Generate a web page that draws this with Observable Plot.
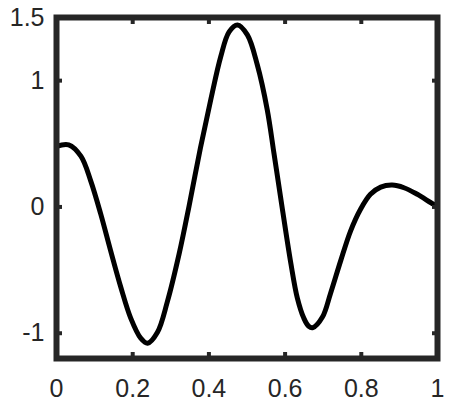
<!DOCTYPE html>
<html>
<head>
<meta charset="utf-8">
<script src="https://cdn.jsdelivr.net/npm/d3@7"></script>
<script src="https://cdn.jsdelivr.net/npm/@observablehq/plot@0.6"></script>
<style>
  html, body { margin: 0; padding: 0; background: #ffffff; }
</style>
</head>
<body>
<div id="chart"></div>
<script>
// Curve samples
const xs = [0, 0.032, 0.064, 0.090, 0.116, 0.142, 0.169, 0.195, 0.221, 0.239,
            0.265, 0.291, 0.322, 0.348, 0.378, 0.405, 0.431, 0.453, 0.475, 0.501,
            0.527, 0.553, 0.571, 0.588, 0.615, 0.632, 0.649, 0.662, 0.673, 0.698, 0.719,
            0.746, 0.772, 0.798, 0.824, 0.851, 0.881, 0.912, 0.947, 0.990, 1.0];
const ys = [0.480, 0.492, 0.402, 0.205, -0.055, -0.346, -0.638, -0.882, -1.039, -1.079,
            -0.992, -0.750, -0.370, 0.008, 0.470, 0.850, 1.189, 1.386, 1.441, 1.362,
            1.126, 0.772, 0.420, 0.080, -0.445, -0.720, -0.880, -0.945, -0.955, -0.872, -0.687,
            -0.425, -0.189, -0.018, 0.100, 0.157, 0.173, 0.152, 0.100, 0.021, 0.008];

const xTicks = [0, 0.2, 0.4, 0.6, 0.8, 1];
const xTickLabels = ["0", "0.2", "0.4", "0.6", "0.8", "1"];
const yTicks = [-1, 0, 1, 1.5];
const yTickLabels = ["-1", "0", "1", "1.5"];

const data = xs.map((x, i) => ({x, y: ys[i]}));
const axisColor = "#262626";

const chart = Plot.plot({
  width: 451,
  height: 404,
  marginLeft: 56,
  marginRight: 14,
  marginTop: 17,
  marginBottom: 46,
  style: {
    fontFamily: "'Liberation Sans', Arial, sans-serif",
    fontSize: "25px",
    color: axisColor,
    background: "#ffffff"
  },
  x: {domain: [0, 1], label: null},
  y: {domain: [-1.2, 1.5], label: null},
  marks: [
    Plot.line(data, {x: "x", y: "y", stroke: "#000000", strokeWidth: 5, curve: "catmull-rom"}),
    Plot.frame({stroke: axisColor, strokeWidth: 6}),
    Plot.axisX(xTicks, {anchor: "bottom", tickSize: -6, tickPadding: 27, strokeWidth: 4,
      tickFormat: (d, i) => xTickLabels[i], label: null}),
    Plot.axisX(xTicks, {anchor: "top", tickSize: -6, strokeWidth: 4,
      tickFormat: () => "", label: null}),
    Plot.axisY(yTicks, {anchor: "left", tickSize: -6, tickPadding: 18, strokeWidth: 4,
      tickFormat: (d, i) => yTickLabels[i], label: null}),
    Plot.axisY(yTicks, {anchor: "right", tickSize: -6, strokeWidth: 4,
      tickFormat: () => "", label: null})
  ]
});
document.getElementById("chart").appendChild(chart);
</script>
</body>
</html>
